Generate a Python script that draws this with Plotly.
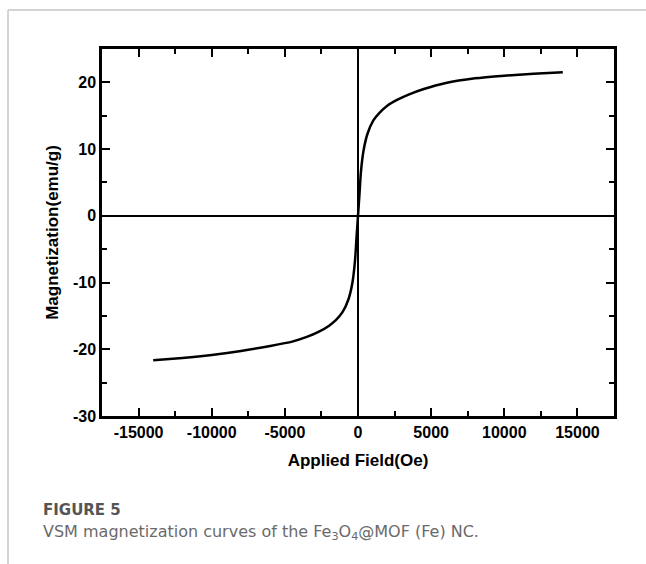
import plotly.graph_objects as go

# Magnetization loop of Fe3O4@MOF (Fe): applied field (Oe) vs magnetization (emu/g)
field_oe = [-14000, -12000, -10000, -8000, -6000, -4500, -3500, -2700, -2000,
            -1500, -1050, -650, -380, -200, -100, 0,
            100, 200, 380, 650, 1050, 1500, 2000, 2700, 3500, 4500,
            6000, 8000, 10000, 12000, 14000]
magnetization = [-21.65, -21.3, -20.85, -20.25, -19.5, -18.85, -18.15, -17.4, -16.5,
                 -15.6, -14.4, -12.5, -10.0, -6.6, -3.2, 0.0,
                 3.2, 6.6, 9.8, 12.3, 14.3, 15.5, 16.5, 17.4, 18.2, 19.0,
                 19.9, 20.6, 21.0, 21.3, 21.5]

x_ticks = [-15000, -10000, -5000, 0, 5000, 10000, 15000]
y_ticks = [-30, -20, -10, 0, 10, 20]

W, H = 646, 564
ML, MR, MT, MB = 102, 32, 49, 148
PW, PH = W - ML - MR, H - MT - MB


def px(x):
    return (x - ML) / PW


def py(y):
    return (H - MB - y) / PH


axis_font = dict(family="Liberation Sans, Arial, sans-serif", size=16, color="black", weight="bold")
title_font = dict(family="Liberation Sans, Arial, sans-serif", size=17, color="black", weight="bold")

fig = go.Figure()
fig.add_trace(go.Scatter(
    x=field_oe, y=magnetization, mode="lines",
    line=dict(color="black", width=2.5, shape="spline", smoothing=0.6),
    showlegend=False, hoverinfo="x+y",
))

common = dict(
    showline=True, linecolor="black", linewidth=2.5, mirror="allticks",
    ticks="inside", ticklen=8, tickwidth=2, tickcolor="black",
    showgrid=False, zeroline=True, zerolinecolor="black", zerolinewidth=2,
    tickfont=axis_font,
)

fig.update_xaxes(
    range=[-17500, 17500], tickvals=x_ticks, ticktext=[str(v) for v in x_ticks],
    minor=dict(dtick=2500, tick0=0, ticks="inside", ticklen=5, tickwidth=2, tickcolor="black"),
    title=dict(text="Applied Field(Oe)", font=title_font, standoff=15),
    **common,
)
fig.update_yaxes(
    range=[-30, 25], tickvals=y_ticks, ticktext=[str(v) for v in y_ticks],
    minor=dict(dtick=5, tick0=0, ticks="inside", ticklen=5, tickwidth=2, tickcolor="black"),
    title=dict(text="Magnetization(emu/g)", font=title_font, standoff=10),
    **common,
)

# page frame lines
frame = dict(type="line", xref="paper", yref="paper", line=dict(color="#d4d4d4", width=2), layer="below")
fig.add_shape(x0=px(8), x1=px(W), y0=py(10), y1=py(10), **frame)
fig.add_shape(x0=px(8), x1=px(8), y0=py(10), y1=py(H), **frame)

fig.add_annotation(
    x=px(41), y=py(510), xref="paper", yref="paper", xanchor="left", yanchor="middle",
    text="FIGURE 5", showarrow=False,
    font=dict(family="DejaVu Sans, sans-serif", size=15, color="#555555", weight="bold"),
)
fig.add_annotation(
    x=px(41), y=py(532), xref="paper", yref="paper", xanchor="left", yanchor="middle",
    text="VSM magnetization curves of the Fe<sub>3</sub>O<sub>4</sub>@MOF (Fe) NC.", showarrow=False,
    font=dict(family="DejaVu Sans, sans-serif", size=16, color="#6a6a6a"),
)

fig.update_layout(
    width=W, height=H,
    margin=dict(l=ML, r=MR, t=MT, b=MB),
    paper_bgcolor="white", plot_bgcolor="white",
)

fig.write_html("out.html")
